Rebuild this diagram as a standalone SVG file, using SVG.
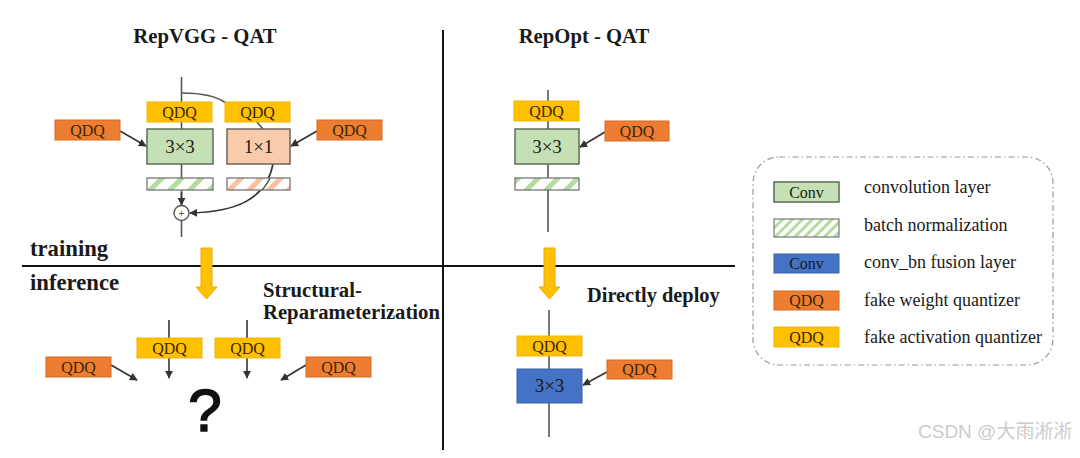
<svg xmlns="http://www.w3.org/2000/svg" width="1080" height="458" viewBox="0 0 1080 458">
<defs>
<style>
.t{font-family:"Liberation Serif","Times New Roman",serif;fill:#1a1a1a}
.b{font-weight:bold}
.q{font-family:"Liberation Serif","Times New Roman",serif;font-size:16px;fill:#3a2600;text-anchor:middle}
.y{fill:#ffc000;stroke:#f2b600;stroke-width:1}
.o{fill:#ed7d31;stroke:#d86a22;stroke-width:1}
.g{fill:#c5e0b4;stroke:#5c6b58;stroke-width:1.5}
.p{fill:#f8cbad;stroke:#6f635c;stroke-width:1.5}
.bl{fill:#4472c4;stroke:#3a62a8;stroke-width:1}
.ln{stroke:#555;stroke-width:1.6;fill:none}
.ar{stroke:#333;stroke-width:1.6;fill:none;marker-end:url(#ah)}
.big{fill:#ffc000;stroke:#e8ac00;stroke-width:1}
.div{stroke:#111;stroke-width:2;fill:none}
.lg{font-size:18px}
</style>
<marker id="ah" viewBox="0 0 10 10" refX="9" refY="5" markerWidth="5" markerHeight="5" orient="auto"><path d="M0,0 L10,5 L0,10 z" fill="#333"/></marker>
<pattern id="hg" width="14" height="14" patternUnits="userSpaceOnUse" patternTransform="rotate(45)"><rect width="14" height="14" fill="#fff"/><rect width="5" height="14" fill="#b5dca0"/></pattern>
<pattern id="ho" width="14" height="14" patternUnits="userSpaceOnUse" patternTransform="rotate(45)"><rect width="14" height="14" fill="#fff"/><rect width="5" height="14" fill="#f8c0a0"/></pattern>
<pattern id="hl" width="7" height="7" patternUnits="userSpaceOnUse" patternTransform="rotate(45)"><rect width="7" height="7" fill="#fff"/><rect width="3" height="7" fill="#b5dca0"/></pattern>
</defs>
<rect width="1080" height="458" fill="#fff"/>

<g id="dividers">
<line class="div" x1="443" y1="30" x2="443" y2="450"/>
<line class="div" x1="22" y1="266" x2="735" y2="266"/>
</g>

<g id="titles">
<text class="t b" x="205" y="43" font-size="20.7" text-anchor="middle">RepVGG - QAT</text>
<text class="t b" x="584" y="43" font-size="20.7" text-anchor="middle">RepOpt - QAT</text>
<text class="t b" x="30" y="256" font-size="22.7">training</text>
<text class="t b" x="30" y="290" font-size="22.7">inference</text>
<text class="t b" x="263" y="297" font-size="20.7">Structural-</text>
<text class="t b" x="263" y="319" font-size="20.7">Reparameterization</text>
<text class="t b" x="587" y="302" font-size="20.4">Directly deploy</text>
</g>

<g id="connectors">
<line class="ln" x1="181.5" y1="77" x2="181.5" y2="205"/>
<line class="ln" x1="181.5" y1="221" x2="181.5" y2="237"/>
<path class="ar" d="M181.5,192 L181.5,205"/>
<path class="ln" d="M182,93 Q212,93 226,103"/>
<line class="ln" x1="256" y1="121" x2="263" y2="129"/>
<path class="ar" d="M273,164 C266,200 235,212 190,213"/>
<path class="ar" d="M120,131 L146,146"/>
<path class="ar" d="M317,131 L291,146"/>
<line class="ln" x1="548" y1="90" x2="548" y2="232"/>
<path class="ar" d="M605,132 L580,147"/>
<path class="ar" d="M169,320 L169,378"/>
<path class="ar" d="M247,320 L247,378"/>
<path class="ar" d="M111,365 L137,380"/>
<path class="ar" d="M306,365 L281,380"/>
<line class="ln" x1="549" y1="310" x2="549" y2="437"/>
<path class="ar" d="M607,372 L583,385"/>
</g>

<g id="repvgg-qdq-act-1"><rect class="y" x="147" y="102" width="65" height="20"/><text class="q" x="179.5" y="117.5">QDQ</text></g>
<g id="repvgg-qdq-act-2"><rect class="y" x="225" y="102" width="65" height="20"/><text class="q" x="257.5" y="117.5">QDQ</text></g>
<g id="repvgg-qdq-w-1"><rect class="o" x="55" y="120" width="65" height="20"/><text class="q" x="87.5" y="135.5">QDQ</text></g>
<g id="repvgg-qdq-w-2"><rect class="o" x="317" y="120" width="65" height="20"/><text class="q" x="349.5" y="135.5">QDQ</text></g>
<g id="repvgg-conv3"><rect class="g" x="147" y="129" width="66" height="35"/><text class="t" x="180" y="153" font-size="19" text-anchor="middle" fill="#2d3a2a">3×3</text></g>
<g id="repvgg-conv1"><rect class="p" x="227" y="129" width="63" height="35"/><text class="t" x="258.5" y="153" font-size="19" text-anchor="middle">1×1</text></g>
<g id="repvgg-bn-1"><rect x="147" y="178" width="66" height="12" fill="url(#hg)" stroke="#777" stroke-width="1.3"/></g>
<g id="repvgg-bn-2"><rect x="227" y="178" width="63" height="12" fill="url(#ho)" stroke="#777" stroke-width="1.3"/></g>
<path class="ln" d="M270,178 Q266,186 262,190"/>
<g id="repvgg-add"><circle cx="181.5" cy="213" r="7.5" fill="#fff" stroke="#555" stroke-width="1.4"/><text x="181.5" y="216.5" font-family="Liberation Sans,sans-serif" font-size="10" text-anchor="middle" fill="#555">+</text></g>

<g id="repopt-qdq-act"><rect class="y" x="514" y="101" width="65" height="20"/><text class="q" x="546.5" y="116.5">QDQ</text></g>
<g id="repopt-conv3"><rect class="g" x="515" y="129" width="64" height="35"/><text class="t" x="547" y="153" font-size="19" text-anchor="middle" fill="#2d3a2a">3×3</text></g>
<g id="repopt-bn"><rect x="515" y="178" width="64" height="12" fill="url(#hg)" stroke="#777" stroke-width="1.3"/></g>
<g id="repopt-qdq-w"><rect class="o" x="605" y="121" width="64" height="20"/><text class="q" x="637" y="136.5">QDQ</text></g>

<g id="arrow-left"><path class="big" d="M201,248 L212,248 L212,287 L217,287 L206.5,299 L196,287 L201,287 Z"/></g>
<g id="arrow-right"><path class="big" d="M544,248 L555,248 L555,287 L560,287 L549.5,299 L539,287 L544,287 Z"/></g>

<g id="inf-qdq-act-1"><rect class="y" x="137" y="338" width="65" height="20"/><text class="q" x="169.5" y="353.5">QDQ</text></g>
<g id="inf-qdq-act-2"><rect class="y" x="215" y="338" width="65" height="20"/><text class="q" x="247.5" y="353.5">QDQ</text></g>
<g id="inf-qdq-w-1"><rect class="o" x="46" y="357" width="65" height="20"/><text class="q" x="78.5" y="372.5">QDQ</text></g>
<g id="inf-qdq-w-2"><rect class="o" x="306" y="357" width="65" height="20"/><text class="q" x="338.5" y="372.5">QDQ</text></g>
<g id="question"><text x="205" y="431" font-family="Liberation Sans,Arial,sans-serif" font-size="60" text-anchor="middle" fill="#111" stroke="#111" stroke-width="1.6">?</text></g>

<g id="deploy-qdq-act"><rect class="y" x="517" y="336" width="65" height="20"/><text class="q" x="549.5" y="351.5">QDQ</text></g>
<g id="deploy-conv"><rect class="bl" x="517" y="369" width="65" height="34"/><text class="t" x="549.5" y="392" font-size="19" text-anchor="middle" fill="#fff">3×3</text></g>
<g id="deploy-qdq-w"><rect class="o" x="607" y="360" width="65" height="19"/><text class="q" x="639.5" y="375">QDQ</text></g>

<g id="legend">
<rect x="753" y="157" width="300" height="208" rx="26" fill="none" stroke="#999" stroke-width="1.2" stroke-dasharray="6,3,1.5,3"/>
<rect class="g" x="774" y="182" width="65" height="20" stroke-width="1.2"/><text class="t" x="806.5" y="197.5" font-size="16" text-anchor="middle" fill="#2d3a2a">Conv</text>
<text class="t lg" x="864" y="193">convolution layer</text>
<rect x="774" y="219" width="65" height="18" fill="url(#hl)" stroke="#777" stroke-width="1.2"/>
<text class="t lg" x="864" y="231">batch normalization</text>
<rect class="bl" x="774" y="254" width="65" height="19"/><text class="t" x="806.5" y="269" font-size="16" text-anchor="middle" fill="#fff">Conv</text>
<text class="t lg" x="864" y="268">conv_bn fusion layer</text>
<rect class="o" x="774" y="291" width="65" height="19"/><text class="q" x="806.5" y="306">QDQ</text>
<text class="t lg" x="864" y="306">fake weight quantizer</text>
<rect class="y" x="774" y="327" width="65" height="20"/><text class="q" x="806.5" y="342.5">QDQ</text>
<text class="t lg" x="864" y="343">fake activation quantizer</text>
</g>

<text x="918" y="438" font-family="Liberation Sans,'Noto Sans CJK SC',sans-serif" font-size="19" fill="#cccccc">CSDN @大雨淅淅</text>
</svg>
